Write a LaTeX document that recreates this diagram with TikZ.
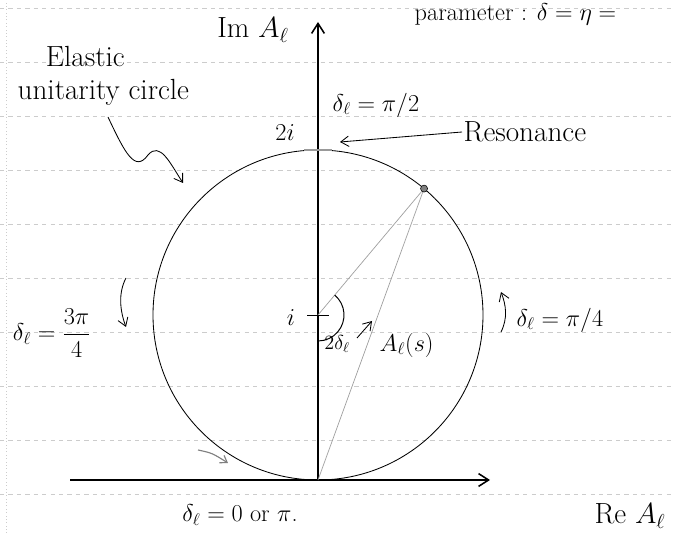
\documentclass[tikz,border=0pt]{standalone}
\usetikzlibrary{arrows.meta,calc}
\tikzset{
 axis/.style={line width=1.1pt,-{Straight Barb[length=2.5mm,width=3.2mm]}},
 ruled/.style={draw=gray!40,dashed,line width=.4pt},
 unicircle/.style={line width=.6pt},
 chord/.style={draw=gray!75,line width=.5pt},
 pointer/.style={line width=.6pt,-{Straight Barb[length=2mm,width=2.6mm]}},
 softpointer/.style={draw=gray,line width=.8pt,-{Straight Barb[length=1.6mm,width=2.2mm]}},
 hand/.style={font=\LARGE,inner sep=1pt},
 bighand/.style={font=\huge,inner sep=1pt},
 tickmark/.style={line width=1.6pt,draw=gray!80}
}

\begin{document}
\begin{tikzpicture}[x=0.025cm,y=0.025cm]
\path[use as bounding box] (0,0) rectangle (673,533);
% ruled paper
\foreach \y in {39,93,...,525} \draw[ruled] (0,\y) -- (673,\y);
\draw[ruled,dotted] (6,0) -- (6,533);
\coordinate (O) at (318,53);
\coordinate (C) at (318,218);
\coordinate (T) at (318,383);
\coordinate (ImTop) at (318,511);
\coordinate (ReL) at (70,53);
\coordinate (ReR) at (490,53);
% axes and circle
\draw[axis] (O) -- (ImTop);
\draw[axis] (ReL) -- (ReR);
\draw[unicircle] (C) circle[radius=165];
\node[circle,draw,fill=gray,inner sep=0,minimum size=5pt] (P) at ($(C)+(50:165)$) {};
\draw[chord] (C) -- (P);
\draw[chord] (O) -- (P);
\draw[line width=.7pt] ($(C)+(50:26)$) arc[start angle=50,end angle=-90,radius=26];
\draw[tickmark] ($(T)+(-14,0)$) -- ($(T)+(14,0)$);
\draw[line width=.6pt] ($(C)+(-11,0)$) -- ($(C)+(11,0)$);
% labels
\node[bighand] (im) at (253,503) {Im $A_\ell$};
\node[bighand] (re) at (630,17) {Re $A_\ell$};
\node[bighand,anchor=north west,align=left] (uc) at (16,488)
  {\hspace*{20pt}Elastic\\[-2pt]unitarity circle};
\node[hand] (twoi) at (285,400) {$2i$};
\node[hand] (one) at (291,215) {$i$};
\node[hand] (half) at (376,428) {$\delta_\ell = \pi/2$};
\node[bighand,anchor=west] (res) at (462,401) {Resonance};
\node[hand] (three) at (52,200) {$\delta_\ell = \displaystyle\frac{3\pi}{4}$};
\node[hand,anchor=west] (quarter) at (515,213) {$\delta_\ell = \pi/4$};
\node[font=\Large,inner sep=1pt] (ang) at (337,189) {$2\delta_\ell$};
\node[hand,anchor=west] (amp) at (378,188) {$A_\ell(s)$};
\node[hand] (zero) at (240,18) {$\delta_\ell = 0$ or $\pi$.};
\node[hand,anchor=base west] (par) at (413,512) {parameter : $\delta = \eta =$};
% pointers
\coordinate (w0) at (108,416);
\coordinate (w1) at (183,350);
\draw[pointer] (w0) .. controls (125,380) and (135,360) .. (148,378)
  .. controls (160,392) and (170,370) .. (w1);
\coordinate (r1) at (340,391);
\draw[pointer] (res.west) -- (r1);
\coordinate (d0) at (126,255);
\coordinate (d1) at (126,206);
\draw[pointer] (d0) .. controls (118,240) and (120,222) .. (d1);
\coordinate (u0) at (501,201);
\coordinate (u1) at (501,241);
\draw[pointer] (u0) .. controls (508,215) and (506,228) .. (u1);
\coordinate (a0) at (357,195);
\coordinate (a1) at (372,212);
\draw[pointer] (a0) -- (a1);
\coordinate (g0) at (198,83);
\coordinate (g1) at (228,70);
\draw[softpointer] (g0) .. controls (212,80) .. (g1);
\end{tikzpicture}
\end{document}
